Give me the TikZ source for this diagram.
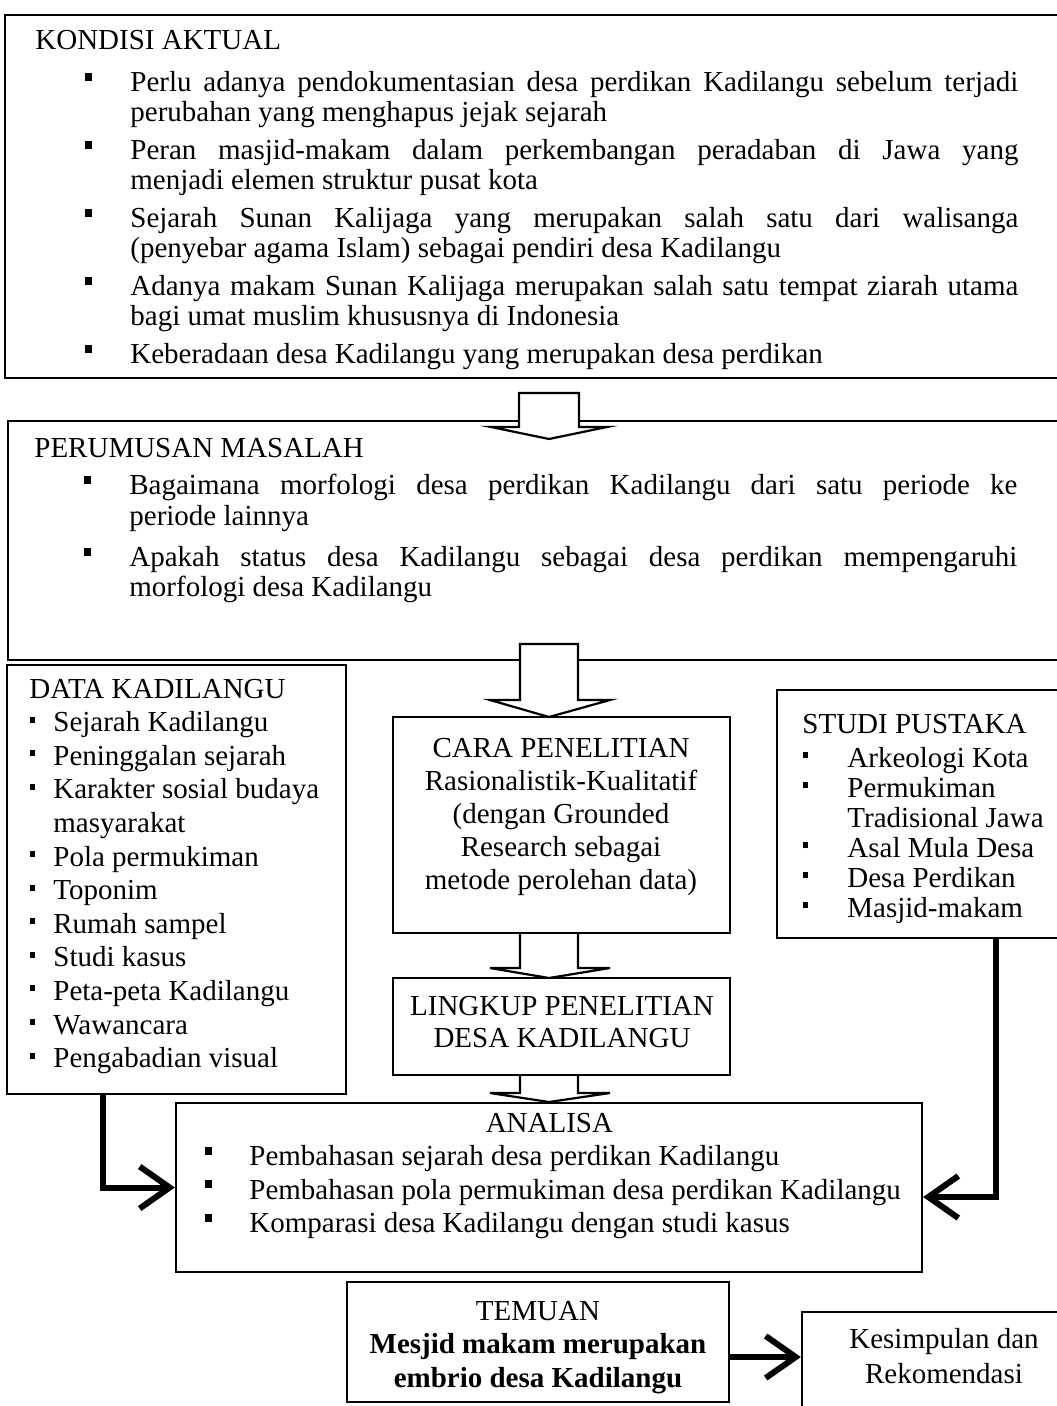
\documentclass[tikz,border=0pt]{standalone}
\usepackage{fontspec}
\setmainfont{Liberation Serif}
\usetikzlibrary{arrows.meta,fit}

\newcommand{\kotakhitam}{\raisebox{5.5pt}{\rule{3.75pt}{4pt}}}
\newcommand{\kotakkecil}{\raisebox{4.5pt}{\rule{2.75pt}{3pt}}}
% #1 tanda, #2 leftmargin, #3 labelsep, #4 itemsep, #5 topsep
\newenvironment{daftar}[5]{\begin{list}{#1}{%
  \setlength{\leftmargin}{#2}\setlength{\labelsep}{#3}%
  \setlength{\labelwidth}{10pt}\setlength{\itemsep}{#4}%
  \setlength{\topsep}{#5}\setlength{\parsep}{0pt}%
  \setlength{\partopsep}{0pt}\setlength{\itemindent}{0pt}}}
  {\end{list}}

\begin{document}
\begin{tikzpicture}[x=0.5pt,y=-0.5pt,
    kotak/.style={draw,line width=1.1pt,inner sep=0pt},
    panahblok/.style={draw,line width=1.1pt,fill=white},
    isi/.style={anchor=base west,inner sep=0pt},
    isitengah/.style={anchor=base,inner sep=0pt}]
  \useasboundingbox (0,0) rectangle (1056,1406);

  % kotak-kotak
  \node[kotak,fit={(5,15) (1064,378)}] (kondisi) {};
  \node[kotak,fit={(8,421) (1064,660)}] (perumusan) {};
  \node[kotak,fit={(7,665) (346,1094)}] (data) {};
  \node[kotak,fit={(393,717) (730,933)}] (cara) {};
  \node[kotak,fit={(393,978) (730,1075)}] (lingkup) {};
  \node[kotak,fit={(777,690) (1064,938)}] (studi) {};
  \node[kotak,fit={(176,1103) (922,1272)}] (analisa) {};
  \node[kotak,fit={(347,1282) (729,1402)}] (temuan) {};
  \node[kotak,fit={(802,1312) (1064,1412)}] (kesimpulan) {};

  % panah blok
  \draw[panahblok] (519,393) -- (519,427) -- (491,427) -- (549,439) -- (607,427) -- (579,427) -- (579,393) -- cycle;
  \draw[panahblok] (520,644) -- (520,700) -- (490,700) -- (549,717) -- (610,700) -- (578,700) -- (578,644) -- cycle;
  \draw[panahblok] (520,934) -- (520,968) -- (490,968) -- (549,978) -- (610,968) -- (578,968) -- (578,934);
  \draw[panahblok] (520,1076) -- (520,1093) -- (490,1093) -- (549,1102) -- (610,1093) -- (578,1093) -- (578,1076);

  \node[isi,font=\fontsize{14.5pt}{15pt}\selectfont] (kondisiteks) at (35,50) {\begin{minipage}[t]{491.5pt}
KONDISI AKTUAL
\begin{daftar}{\kotakhitam}{47.5pt}{19pt}{4pt}{6pt}
\item Perlu adanya pendokumentasian desa perdikan Kadilangu sebelum terjadi\linebreak perubahan yang menghapus jejak sejarah
\item Peran masjid-makam dalam perkembangan peradaban di Jawa yang\linebreak menjadi elemen struktur pusat kota
\item Sejarah Sunan Kalijaga yang merupakan salah satu dari walisanga\linebreak (penyebar agama Islam) sebagai pendiri desa Kadilangu
\item Adanya makam Sunan Kalijaga merupakan salah satu tempat ziarah utama\linebreak bagi umat muslim khususnya di Indonesia
\item Keberadaan desa Kadilangu yang merupakan desa perdikan
\end{daftar}
\end{minipage}};

  \node[isi,font=\fontsize{14.5pt}{15pt}\selectfont] (perumusanteks) at (34,458) {\begin{minipage}[t]{491.5pt}
PERUMUSAN MASALAH
\begin{daftar}{\kotakhitam}{47.5pt}{19pt}{6pt}{3.5pt}
\item Bagaimana morfologi desa perdikan Kadilangu dari satu periode ke\linebreak periode lainnya
\item Apakah status desa Kadilangu sebagai desa perdikan mempengaruhi\linebreak morfologi desa Kadilangu
\end{daftar}
\end{minipage}};

  \node[isi,font=\fontsize{14.5pt}{16.8pt}\selectfont] (datateks) at (29,698) {\begin{minipage}[t]{155pt}
DATA KADILANGU
\begin{daftar}{\kotakkecil}{12pt}{9pt}{0pt}{0pt}
\item Sejarah Kadilangu
\item Peninggalan sejarah
\item Karakter sosial budaya\\ masyarakat
\item Pola permukiman
\item Toponim
\item Rumah sampel
\item Studi kasus
\item Peta-peta Kadilangu
\item Wawancara
\item Pengabadian visual
\end{daftar}
\end{minipage}};

  \node[isitengah,font=\fontsize{14.5pt}{16.5pt}\selectfont] (carateks) at (561,757) {\begin{minipage}[t]{165pt}\centering
CARA PENELITIAN\\ Rasionalistik-Kualitatif\\ (dengan Grounded\\ Research sebagai\\ metode perolehan data)
\end{minipage}};

  \node[isitengah,font=\fontsize{14.5pt}{16pt}\selectfont] (lingkupteks) at (562,1015) {\begin{minipage}[t]{165pt}\centering
LINGKUP PENELITIAN\\ DESA KADILANGU
\end{minipage}};

  \node[isi,font=\fontsize{14.5pt}{15pt}\selectfont] (studiteks) at (802,733) {\begin{minipage}[t]{130pt}
STUDI PUSTAKA
\begin{daftar}{\kotakkecil}{22.5pt}{19.5pt}{0pt}{2pt}
\item Arkeologi Kota
\item Permukiman\\ Tradisional Jawa
\item Asal Mula Desa
\item Desa Perdikan
\item Masjid-makam
\end{daftar}
\end{minipage}};

  \node[isi,font=\fontsize{14.5pt}{16.75pt}\selectfont] (analisateks) at (185,1132) {\begin{minipage}[t]{364pt}
{\centering ANALISA\par}
\begin{daftar}{\kotakhitam}{32pt}{18.5pt}{0pt}{-1.75pt}
\item Pembahasan sejarah desa perdikan Kadilangu
\item Pembahasan pola permukiman desa perdikan Kadilangu
\item Komparasi desa Kadilangu dengan studi kasus
\end{daftar}
\end{minipage}};

  \node[isitengah,font=\fontsize{14.5pt}{16.75pt}\selectfont] (temuanteks) at (538,1320) {\begin{minipage}[t]{185pt}\centering
TEMUAN\\ \textbf{Mesjid makam merupakan}\\ \textbf{embrio desa Kadilangu}
\end{minipage}};

  \node[isitengah,font=\fontsize{14.5pt}{17.5pt}\selectfont] (kesimpulanteks) at (944,1348) {\begin{minipage}[t]{120pt}\centering
Kesimpulan dan\\ Rekomendasi
\end{minipage}};

  % panah tebal
  \coordinate (t1) at ([yshift=-7.5pt]temuan.east);
  \begin{scope}[line width=3pt,-{Straight Barb[length=15pt,width=21pt,line width=3pt]}]
    \draw ([xshift=48.5pt]data.south west) |- (analisa.west);
    \draw ([xshift=110pt]studi.south west) |- ([yshift=-4.75pt]analisa.east);
    \draw (t1) -- (t1 -| kesimpulan.west);
  \end{scope}
\end{tikzpicture}
\end{document}
